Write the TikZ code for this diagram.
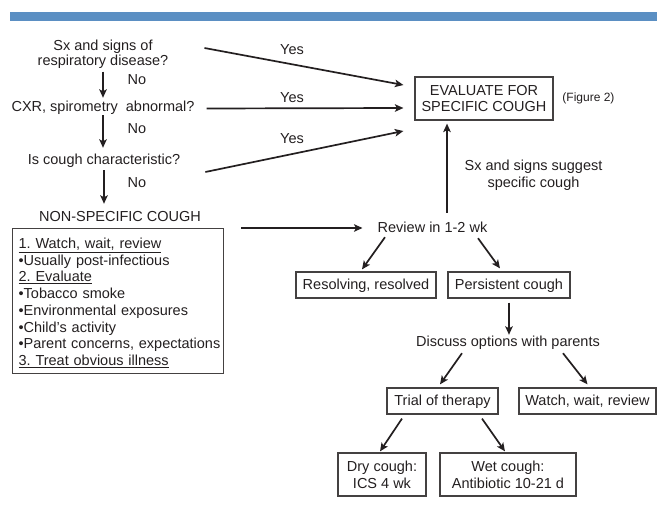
\documentclass[tikz,border=0pt]{standalone}
\usepackage{fontspec}
\setmainfont{Liberation Sans}
\usepackage{xcolor}
\usetikzlibrary{arrows.meta}
\definecolor{barblue}{RGB}{91,143,195}
\definecolor{ink}{RGB}{35,31,32}

\begin{document}
\begin{tikzpicture}[x=1pt, y=-1pt,
    every node/.style={font=\fontsize{14.5}{16.7}\selectfont, text=ink},
    lbl/.style={inner sep=0pt, text height=10pt, text depth=3pt, anchor=base},
    two/.style={inner sep=0pt, align=center},
    box/.style={draw=ink!85, line width=1.2pt, inner sep=0pt, align=center},
    onebox/.style={box, minimum height=26pt, text height=10.5pt, text depth=1.5pt},
    arr/.style={draw=ink, line width=1.7pt, -{Stealth[length=8.5pt,width=7.5pt,inset=2pt]}}]
    \useasboundingbox (0,0) rectangle (657,508);

    % header bar
    \fill[barblue] (10,12) rectangle (657,21);

    % questions
    \node[two] (q1) at (103,54) {Sx and signs of\\[-1.5pt] respiratory disease?};
    \node[lbl] (q2) at (103,112) {CXR, spirometry\ \ abnormal?};
    \node[lbl] (q3) at (104,165) {Is cough characteristic?};
    \node[lbl] (nsc) at (120,222) {NON-SPECIFIC COUGH};
    \node[lbl] (no1) at (137,85) {No};
    \node[lbl] (no2) at (137,134) {No};
    \node[lbl] (no3) at (137,188) {No};
    \draw[arr, shorten <=3pt, shorten >=4pt] (q1.south) -- (q1.south |- q2.north);
    \draw[arr, shorten >=7pt] (q2.south) -- (q2.south |- q3.north);
    \draw[arr, shorten <=2pt, shorten >=8pt] (q3.south) -- (q3.south |- nsc.north);

    % non-specific cough
    \node[box, anchor=north west, text width=199pt, align=left, inner xsep=6pt,
          inner ysep=8pt, text height=12pt, text depth=117pt] (nsbox) at (12,228)
        {\underline{1.\ Watch, wait, review}\\
         •Usually post-infectious\\
         \underline{2.\ Evaluate}\\
         •Tobacco smoke\\
         •Environmental exposures\\
         •Child’s activity\\
         \mbox{•Parent concerns, expectations}\\
         \underline{3.\ Treat obvious illness}};

    % specific cough
    \node[box, minimum width=138pt, minimum height=43pt] (eval) at (484,98.5)
        {EVALUATE FOR\\SPECIFIC COUGH};
    \node[inner sep=0pt, font=\fontsize{12}{14}\selectfont] (fig) at (588.5,98.5) {(Figure 2)};
    \node[lbl] (yes1) at (292,55) {Yes};
    \node[lbl] (yes2) at (292,103) {Yes};
    \node[lbl] (yes3) at (292,144) {Yes};
    \draw[arr] ([xshift=36pt,yshift=6pt]q1.east) -- ([xshift=-11pt,yshift=13.5pt]eval.west);
    \draw[arr] ([xshift=12pt]q2.east) -- ([xshift=-11pt,yshift=-9.5pt]eval.west);
    \draw[arr] ([xshift=25pt,yshift=-10.5pt]q3.east) -- ([xshift=-11pt,yshift=-32.5pt]eval.west);

    % review
    \node[lbl] (review) at (432.5,232.5) {Review in 1-2 wk};
    \node[two] (sugg) at (533.5,175) {Sx and signs suggest\\specific cough};
    \draw[arr] ([xshift=17pt]nsbox.north east) -- ([xshift=-15pt,yshift=1pt]review.west);
    \draw[arr] ([xshift=14.5pt,yshift=9.5pt]review.north) -- ([xshift=-37pt,yshift=-3pt]eval.south);

    \node[onebox, minimum width=140pt] (res) at (366,285) {Resolving, resolved};
    \node[onebox, minimum width=122pt] (per) at (509,285) {Persistent cough};
    \draw[arr] ([xshift=-47.5pt,yshift=-1.5pt]review.south) -- ([xshift=-4pt,yshift=2pt]res.north);
    \draw[arr] ([xshift=45.5pt,yshift=-2.5pt]review.south) -- ([xshift=-9pt,yshift=3pt]per.north);

    % options
    \node[lbl] (discuss) at (508,347) {Discuss options with parents};
    \draw[arr, shorten <=4pt, shorten >=2pt] (per.south) -- (per.south |- discuss.north);
    \node[onebox, minimum width=111pt] (trial) at (442.5,401) {Trial of therapy};
    \node[onebox, minimum width=137pt] (watch) at (587.5,401) {Watch, wait, review};
    \draw[arr] ([xshift=-46pt,yshift=-3pt]discuss.south) -- ([xshift=-2.5pt,yshift=3pt]trial.north);
    \draw[arr] ([xshift=55pt,yshift=-3pt]discuss.south) -- ([yshift=3pt]watch.north);

    % therapy
    \node[box, minimum width=88pt, minimum height=43pt] (dry) at (382,474.5) {Dry cough:\\ICS 4 wk};
    \node[box, minimum width=136pt, minimum height=43pt] (wet) at (508,474.5) {Wet cough:\\Antibiotic 10-21 d};
    \draw[arr] ([xshift=-40.5pt,yshift=-4pt]trial.south) -- ([xshift=-2pt,yshift=1pt]dry.north);
    \draw[arr] ([xshift=39.5pt,yshift=-4pt]trial.south) -- ([xshift=-3pt,yshift=1pt]wet.north);
\end{tikzpicture}
\end{document}
